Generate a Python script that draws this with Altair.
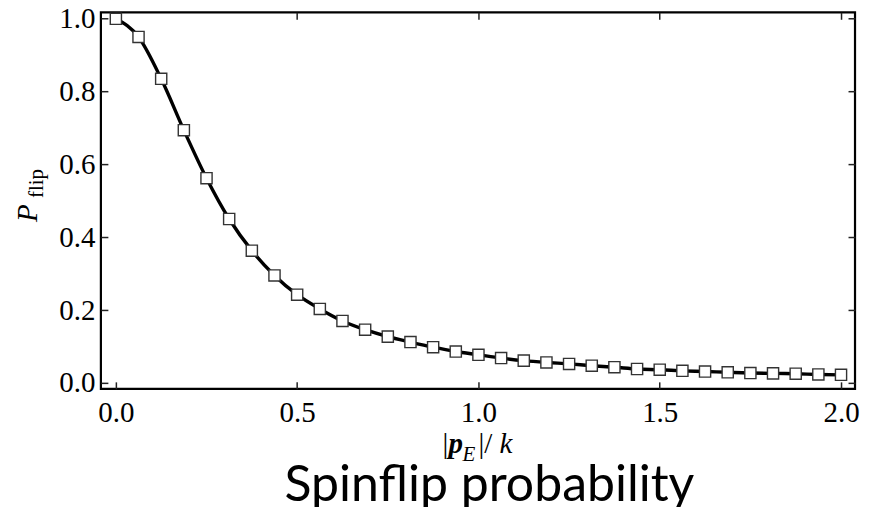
import altair as alt
import pandas as pd

# data
x_vals = [i * 0.0625 for i in range(33)]
p_flip = [1.000, 0.950, 0.835, 0.694, 0.562, 0.450, 0.363, 0.295, 0.242, 0.203,
          0.170, 0.146, 0.127, 0.112, 0.098, 0.086, 0.077, 0.068, 0.061, 0.056,
          0.052, 0.047, 0.043, 0.038, 0.036, 0.033, 0.031, 0.029, 0.027, 0.026,
          0.025, 0.023, 0.022]
x_ticks = [0.0, 0.5, 1.0, 1.5, 2.0]
y_ticks = [0.0, 0.2, 0.4, 0.6, 0.8, 1.0]

df = pd.DataFrame({"x": x_vals, "p": p_flip})

SERIF = "Liberation Serif"
xscale = alt.Scale(domain=[-0.0413, 2.0386], nice=False, zero=False)
yscale = alt.Scale(domain=[-0.0165, 1.0178], nice=False, zero=False)

base_axis = dict(grid=False, domain=False, tickSize=7, offset=-7, tickColor="#222",
                 tickWidth=1.5, labelFont=SERIF, labelFontSize=29, labelColor="black",
                 title=None)

line = alt.Chart(df).mark_line(color="black", strokeWidth=3.4, interpolate="monotone").encode(
    x=alt.X("x:Q", scale=xscale,
            axis=alt.Axis(orient="bottom", values=x_ticks, format=".1f", labelPadding=10,
                          labelFlush=False, **base_axis)),
    y=alt.Y("p:Q", scale=yscale,
            axis=alt.Axis(orient="left", values=y_ticks, format=".1f", labelPadding=6,
                          labelFlush=False, **base_axis)),
)

pts = alt.Chart(df).mark_point(shape="square", filled=False, fill="white", fillOpacity=1,
                               stroke="#333", strokeWidth=1.4, size=125, opacity=1).encode(
    x=alt.X("x:Q", scale=xscale,
            axis=alt.Axis(orient="top", values=x_ticks, labels=False, **base_axis)),
    y=alt.Y("p:Q", scale=yscale,
            axis=alt.Axis(orient="right", values=y_ticks, labels=False, **base_axis)),
)

# axis titles and caption as text pieces (positions relative to plot area)
def txt(s, x, y, size=29, style="normal", weight="normal", angle=0, font=SERIF, align="left"):
    d = pd.DataFrame({"t": [s]})
    kw = dict(font=font, fontSize=size, fontStyle=style, fontWeight=weight,
              align=align, baseline="alphabetic", color="black")
    if angle:
        kw["angle"] = angle
    return alt.Chart(d).mark_text(**kw).encode(
        text="t:N", x=alt.value(x), y=alt.value(y))

texts = [
    txt("|", 342, 441),
    txt("p", 348, 441, style="italic", weight="bold"),
    txt("E", 362, 449, size=21, style="italic"),
    txt("|/", 378, 441),
    txt("k", 399, 441, style="italic"),
    txt("P", -64, 210, size=29, style="italic", angle=270),
    txt("flip", -58, 186, size=21, angle=270),
    txt("Spinflip probability", 389, 489, size=50, font="Lato", align="center"),
]

chart = alt.layer(line, pts, *texts).resolve_axis(x="independent", y="independent").properties(
    width=755, height=377,
    background="white",
    autosize=alt.AutoSizeParams(type="none"),
    padding={"left": 93, "top": 4, "right": 14, "bottom": 118},
).configure_view(stroke="black", strokeWidth=2.2, strokeOpacity=1)

chart.save("out.html", embed_options={"renderer": "svg", "actions": False})
